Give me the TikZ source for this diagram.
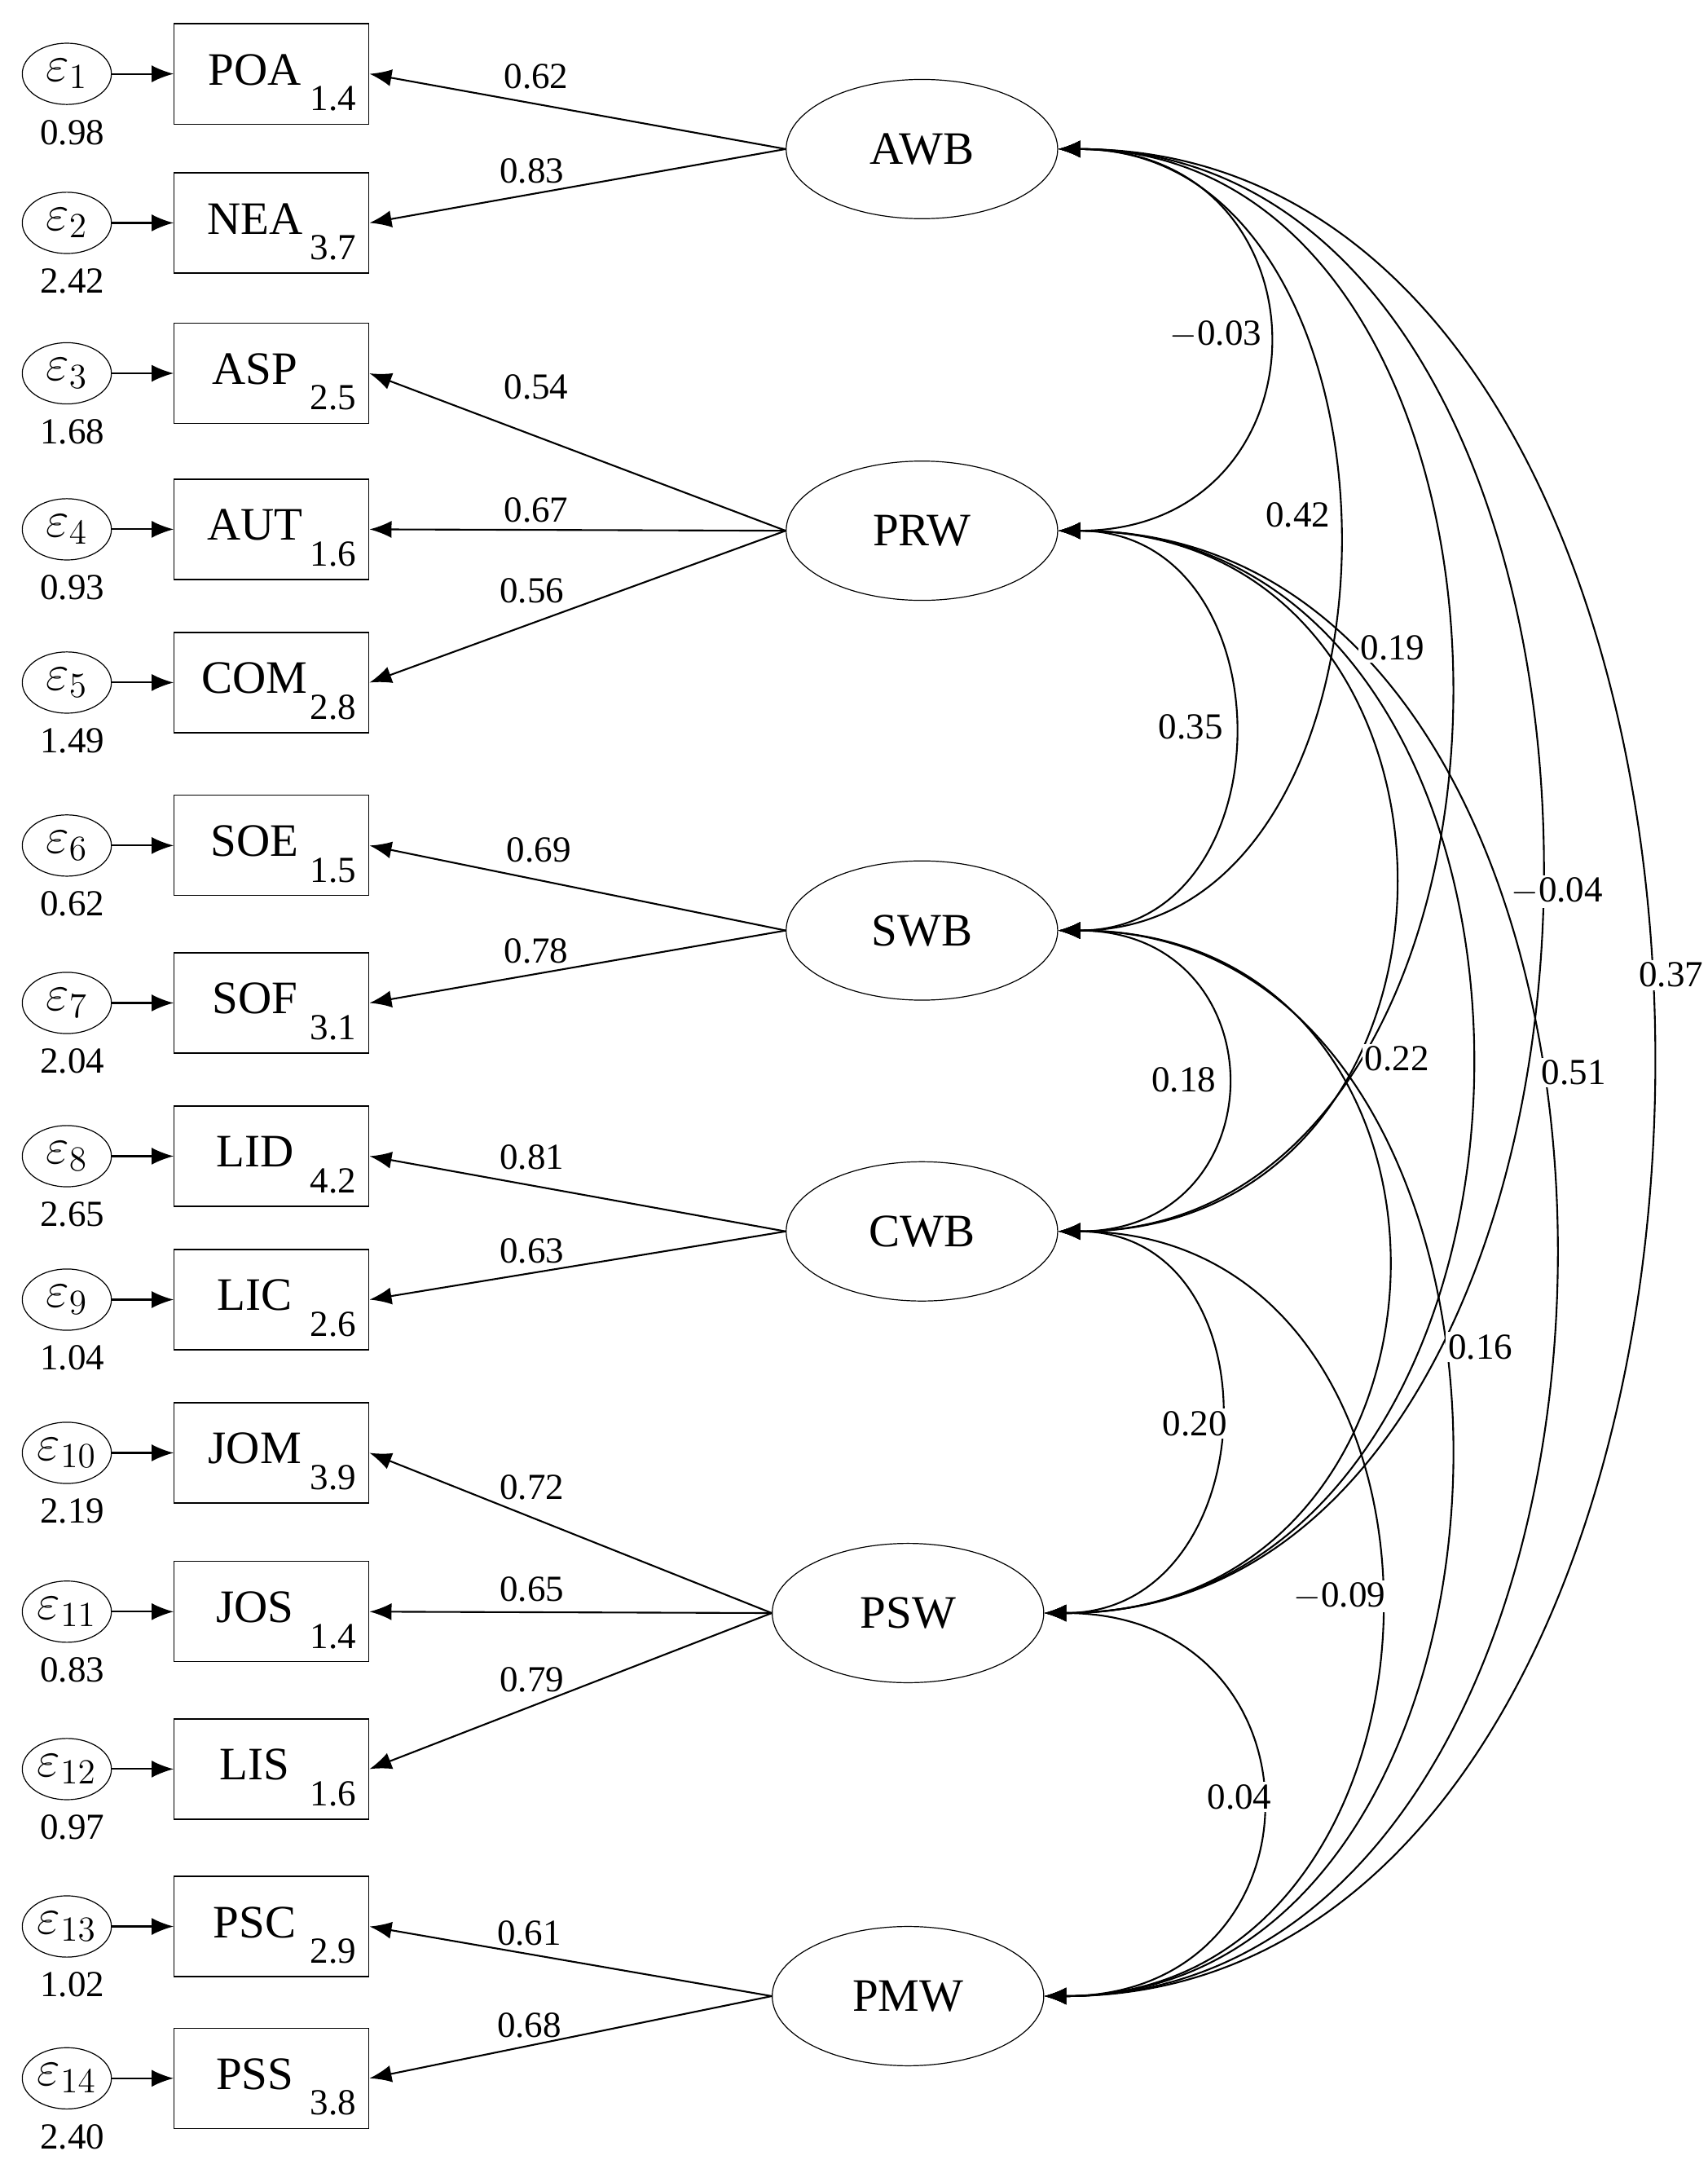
\documentclass[tikz,border=0pt]{standalone}
\usepackage{fontspec}
\setmainfont{Liberation Serif}
\usetikzlibrary{shapes.geometric,arrows.meta}
\begin{document}
\begin{tikzpicture}[x=0.02cm,y=-0.02cm,
  box/.style={draw,minimum width=2.8cm,minimum height=1.44cm,font=\fontsize{19}{21}\selectfont,inner sep=0pt},
  lat/.style={draw,ellipse,minimum width=3.9cm,minimum height=2.0cm,font=\fontsize{19}{21}\selectfont},
  err/.style={draw,ellipse,minimum width=1.28cm,minimum height=0.88cm,inner sep=0pt,font=\fontsize{21}{23}\selectfont},
  num/.style={font=\fontsize{15}{17}\selectfont},
  arr/.style={-{Latex[length=9pt,width=7pt]},line width=0.7pt},
  cov/.style={{Latex[length=9pt,width=7pt]}-{Latex[length=9pt,width=7pt]},line width=0.7pt}]
\useasboundingbox (0,0) rectangle (1226,1560);
\foreach \i/\n/\c/\yy/\v in {1/POA/1.4/53/0.98,2/NEA/3.7/160/2.42,3/ASP/2.5/268/1.68,4/AUT/1.6/380/0.93,5/COM/2.8/490/1.49,6/SOE/1.5/607/0.62,7/SOF/3.1/720/2.04,8/LID/4.2/830/2.65,9/LIC/2.6/933/1.04,10/JOM/3.9/1043/2.19,11/JOS/1.4/1157/0.83,12/LIS/1.6/1270/0.97,13/PSC/2.9/1383/1.02,14/PSS/3.8/1492/2.40}{
  \node[box] (b\i) at (195,\yy) {};
  \node[font=\fontsize{19}{21}\selectfont] (t\i) at (183,\yy-3) {\n};
  \node[num,anchor=south east] (c\i) at ([xshift=-2pt,yshift=2pt]b\i.south east) {\c};
  \node[err] (e\i) at (48,\yy) {$\mathit{\varepsilon}_{\i}$};
  \node[num] (v\i) at (52,\yy+42) {\v};
  \draw[arr] (e\i) -- (b\i);
}
\node[lat] (AWB) at (662,107) {AWB};
\node[lat] (PRW) at (662,381) {PRW};
\node[lat] (SWB) at (662,668) {SWB};
\node[lat] (CWB) at (662,884) {CWB};
\node[lat] (PSW) at (652,1158) {PSW};
\node[lat] (PMW) at (652,1433) {PMW};
\foreach \l/\b/\lab/\lx/\ly in {AWB/1/0.62/385/55,AWB/2/0.83/382/123,PRW/3/0.54/385/278,PRW/4/0.67/385/366,PRW/5/0.56/382/424,SWB/6/0.69/387/610,SWB/7/0.78/385/683,CWB/8/0.81/382/831,CWB/9/0.63/382/898,PSW/10/0.72/382/1068,PSW/11/0.65/382/1141,PSW/12/0.79/382/1206,PMW/13/0.61/380/1388,PMW/14/0.68/380/1454}{
  \draw[arr] (\l.west) -- (b\b.east);
  \node[num] (L\b) at (\lx,\ly) {\lab};
}
\foreach \a/\b/\m in {AWB/PRW/910,AWB/SWB/960,AWB/CWB/1040,AWB/PSW/1110,AWB/PMW/1190,PRW/SWB/885,PRW/CWB/1000,PRW/PSW/1060,PRW/PMW/1120,SWB/CWB/880,SWB/PSW/1000,SWB/PMW/1045,CWB/PSW/880,CWB/PMW/995,PSW/PMW/915}{
  \pgfmathsetmacro{\k}{(\m-760)/0.75}
  \draw[cov] (\a.east) .. controls ([xshift=\k*0.02cm]\a.east) and ([xshift=\k*0.02cm]\b.east) .. (\b.east);
}
\foreach \t/\x/\y [count=\j] in {{$-$0.03}/873/240,0.42/932/370,0.19/1000/465,0.35/855/522,{$-$0.04}/1118/640,0.37/1200/700,0.22/1003/760,0.51/1130/770,0.18/850/775,0.16/1063/967,0.20/858/1022,{$-$0.09}/962/1146,0.04/890/1290}{
  \node[num,fill=white,inner sep=1pt] (K\j) at (\x,\y) {\t};
}
\end{tikzpicture}
\end{document}
